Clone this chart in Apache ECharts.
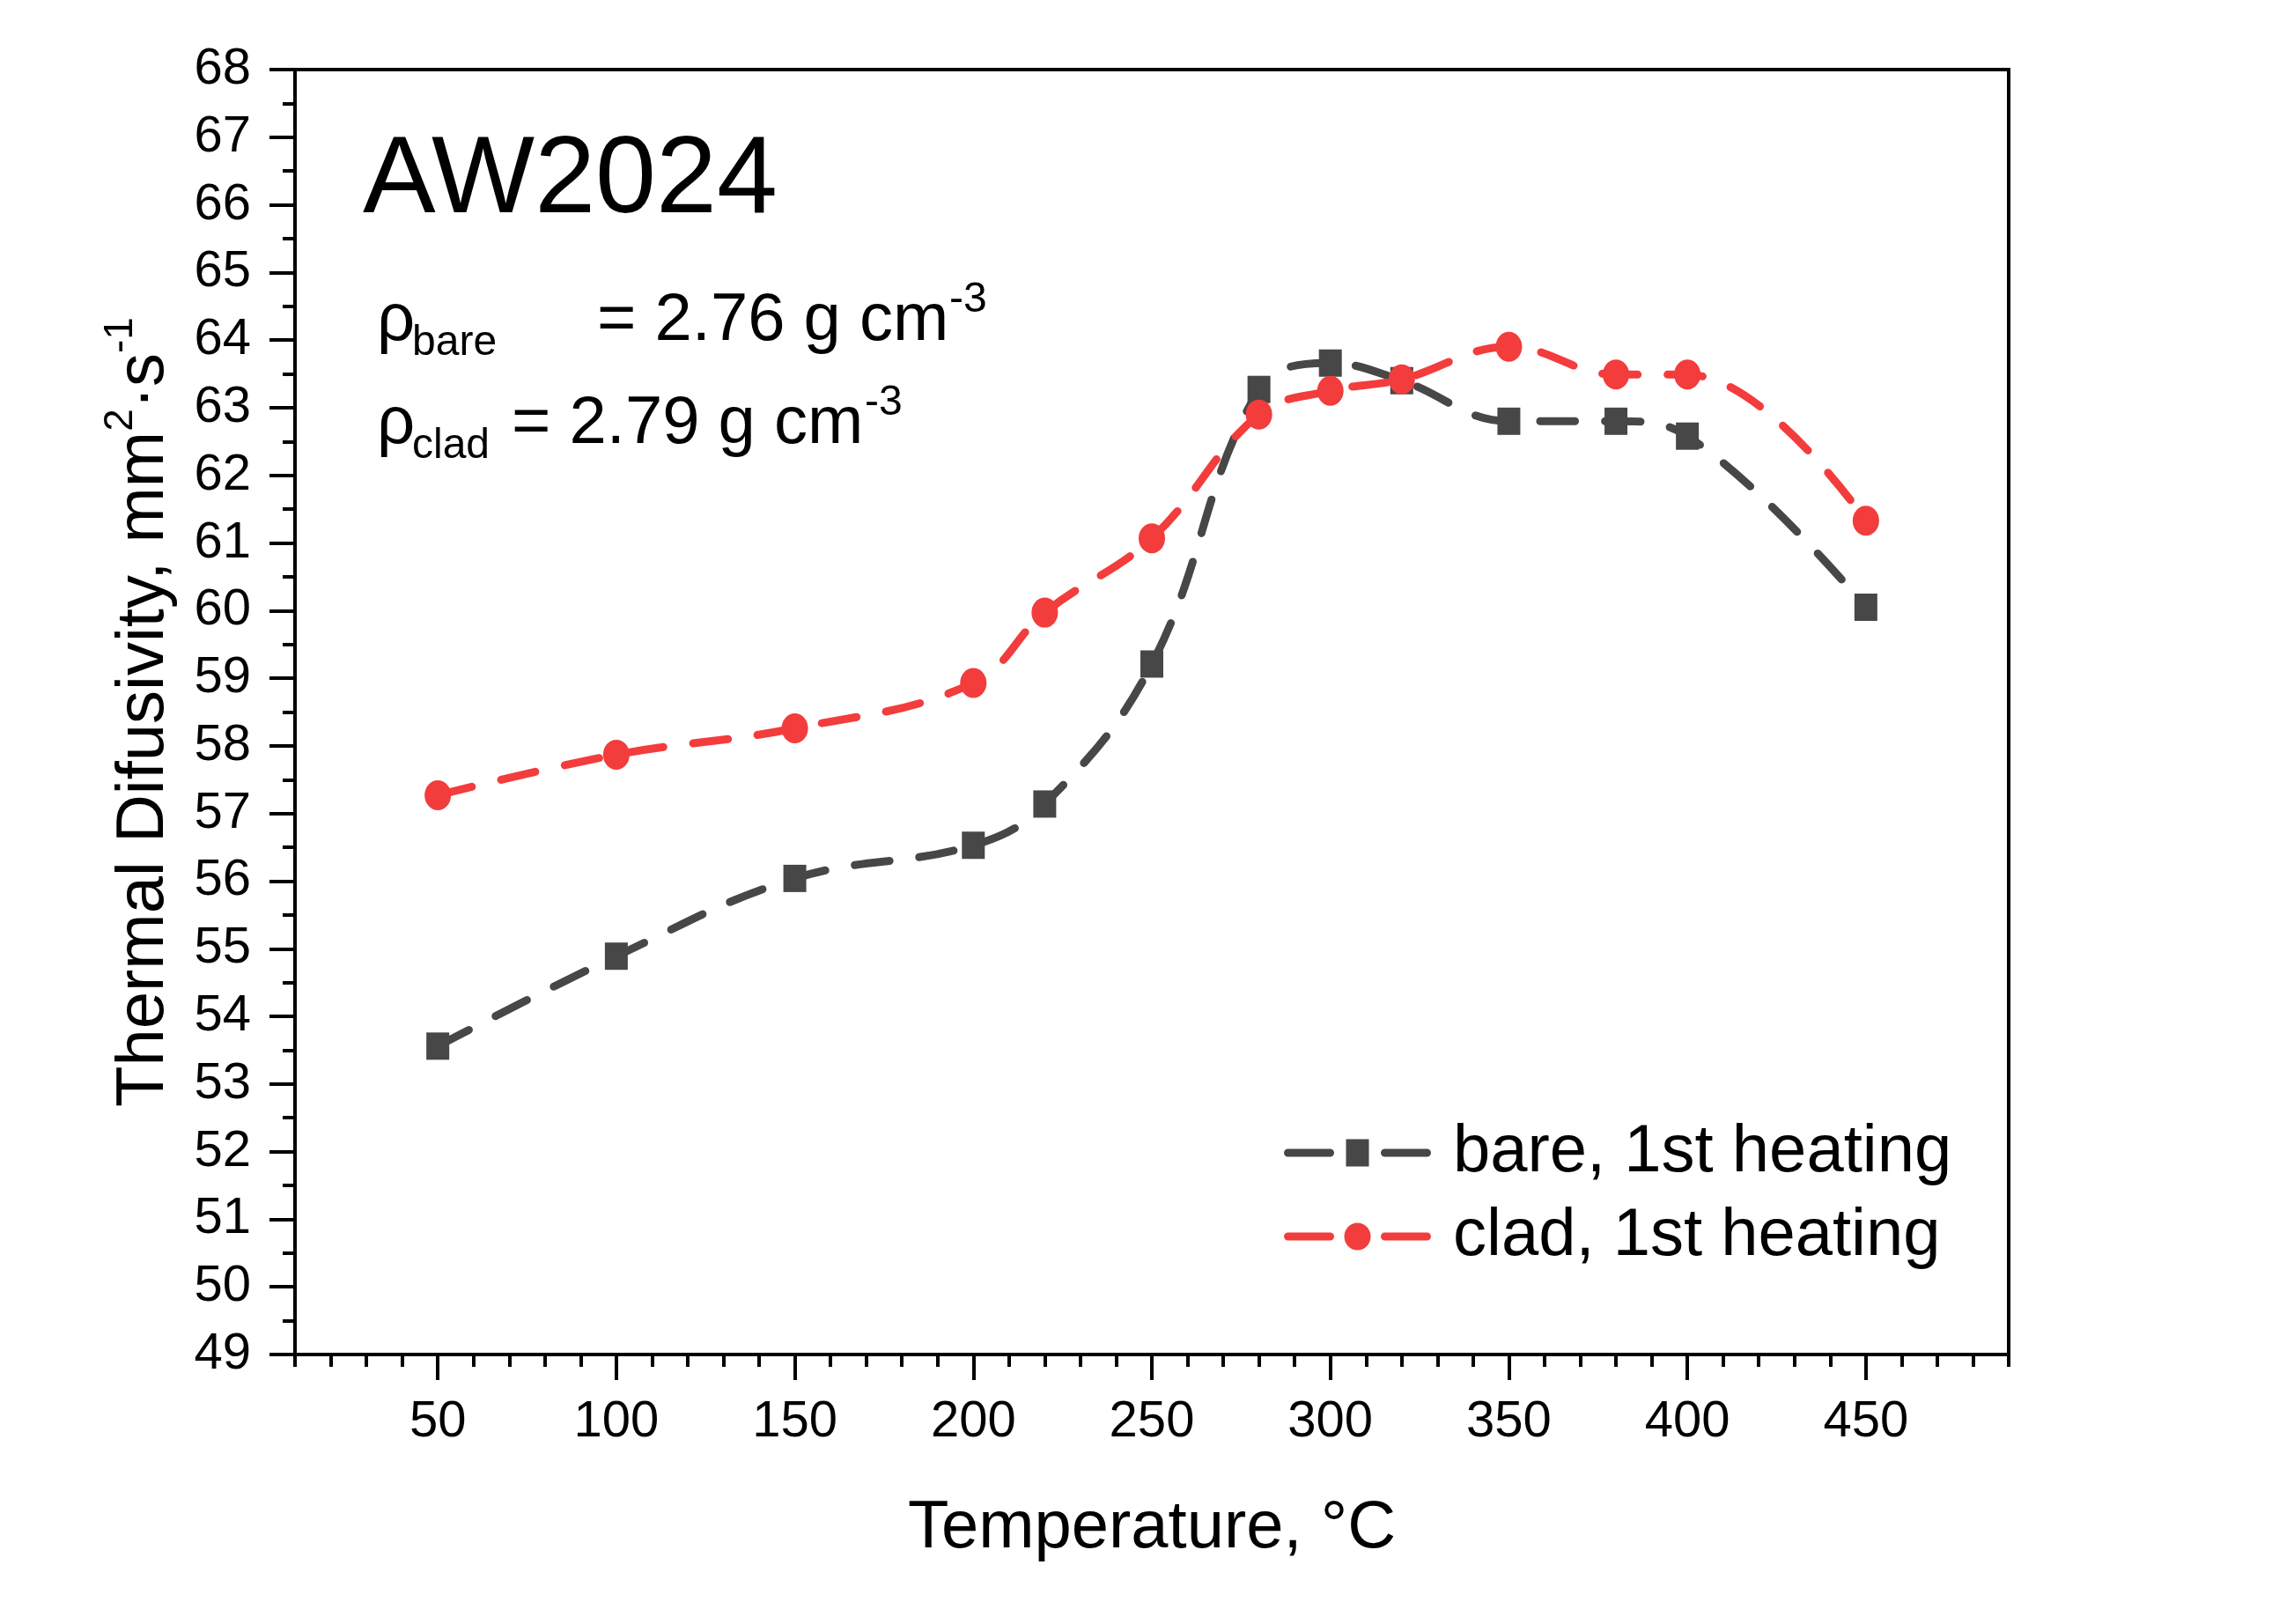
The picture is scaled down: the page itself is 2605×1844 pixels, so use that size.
<!DOCTYPE html>
<html>
<head>
<meta charset="utf-8">
<script src="https://cdn.jsdelivr.net/npm/echarts@6/dist/echarts.min.js"></script>
<style>
html,body{margin:0;padding:0;background:#fff;}
#chart{width:2605px;height:1844px;}
</style>
</head>
<body>
<div id="chart"></div>
<script>
// ---- data ----
const temps = [50, 100, 150, 200, 220, 250, 280, 300, 320, 350, 380, 400, 450];
const bare  = [53.56, 54.89, 56.04, 56.53, 57.14, 59.21, 63.27, 63.66, 63.40, 62.80, 62.80, 62.58, 60.05];
const clad  = [57.27, 57.87, 58.26, 58.93, 59.97, 61.07, 62.90, 63.25, 63.42, 63.90, 63.49, 63.49, 61.33];
const xTickLabels = [50, 100, 150, 200, 250, 300, 350, 400, 450];
const seriesNames = ['bare, 1st heating', 'clad, 1st heating'];

const FONT = '"Liberation Sans", Arial, sans-serif';
const GRAY = '#474747';
const RED = '#f33c3c';

// legend icons: dash - marker - dash (drawn as one filled path, 167 x 32 box)
const dashes = 'M4.5 11.5 L52.5 11.5 A4.5 4.5 0 0 1 52.5 20.5 L4.5 20.5 A4.5 4.5 0 0 1 4.5 11.5 Z ' +
               'M114.5 11.5 L162.5 11.5 A4.5 4.5 0 0 1 162.5 20.5 L114.5 20.5 A4.5 4.5 0 0 1 114.5 11.5 Z ';
const iconBare = 'path://M0 16 L0 16 ' + dashes + 'M70.5 0.5 L96.5 0.5 L96.5 31.5 L70.5 31.5 Z M167 16 L167 16';
const iconClad = 'path://M0 16 L0 16 ' + dashes + 'M68.5 16 A15 15.5 0 1 0 98.5 16 A15 15.5 0 1 0 68.5 16 Z M83.5 0 L83.5 0 M83.5 32 L83.5 32 M167 16 L167 16';

const chart = echarts.init(document.getElementById('chart'), null, {renderer: 'canvas'});

function txt(x, baseline, fs, text) {
  return {
    type: 'text', x: x, y: baseline - 0.35 * fs, z: 100,
    style: { text: text, font: fs + 'px ' + FONT, fill: '#000', verticalAlign: 'middle', align: 'left' }
  };
}

const option = {
  backgroundColor: '#fff',
  animation: false,
  grid: { left: 335, top: 79, width: 1946, height: 1459, show: true, borderColor: '#000', borderWidth: 4, backgroundColor: 'transparent' },
  xAxis: [{
    type: 'value', min: 10, max: 490, interval: 10,
    axisLine: { show: true, lineStyle: { color: '#000', width: 4 } },
    axisTick: { show: true, length: 14, lineStyle: { color: '#000', width: 4 } },
    axisLabel: { customValues: xTickLabels, fontSize: 58, fontFamily: FONT, color: '#000', margin: 48 },
    splitLine: { show: false },
    name: 'Temperature, °C', nameLocation: 'middle', nameGap: 160,
    nameTextStyle: { fontSize: 76, fontFamily: FONT, color: '#000' }
  }, {
    type: 'value', min: 10, max: 490, position: 'bottom', gridIndex: 0,
    axisLine: { show: false },
    axisTick: { show: true, customValues: xTickLabels, length: 29, lineStyle: { color: '#000', width: 4 } },
    axisLabel: { show: false },
    splitLine: { show: false }
  }],
  yAxis: {
    type: 'value', min: 49, max: 68, interval: 1,
    axisLine: { show: true, lineStyle: { color: '#000', width: 4 } },
    axisTick: { show: true, length: 29, lineStyle: { color: '#000', width: 4 } },
    minorTick: { show: true, splitNumber: 2, length: 14, lineStyle: { color: '#000', width: 4 } },
    axisLabel: { fontSize: 58, fontFamily: FONT, color: '#000', margin: 50 },
    splitLine: { show: false },
    name: '{b|Thermal Difusivity, mm}{sup|2}{b|·s}{sup|-1}',
    nameLocation: 'middle', nameGap: 133, nameRotate: 90,
    nameTextStyle: {
      fontFamily: FONT, color: '#000', fontSize: 76,
      rich: {
        b: { fontSize: 76, fontFamily: FONT, color: '#000', lineHeight: 88, verticalAlign: 'bottom' },
        sup: { fontSize: 46, fontFamily: FONT, color: '#000', lineHeight: 46, verticalAlign: 'top' }
      }
    }
  },
  legend: {
    left: 1453, top: 1266, orient: 'vertical',
    itemWidth: 167, itemHeight: 32, itemGap: 19,
    textStyle: { fontSize: 76, fontFamily: FONT, color: '#000', padding: [0, 0, 0, 20] },
    data: [
      { name: seriesNames[0], icon: iconBare },
      { name: seriesNames[1], icon: iconClad }
    ]
  },
  series: [{
    name: seriesNames[0], type: 'line', xAxisIndex: 0,
    data: temps.map((t, i) => [t, bare[i]]),
    smooth: 0.4,
    symbol: 'rect', symbolSize: [26, 31],
    itemStyle: { color: GRAY },
    lineStyle: { color: GRAY, width: 9, type: [40, 34], cap: 'round' }
  }, {
    name: seriesNames[1], type: 'line', xAxisIndex: 0,
    data: temps.map((t, i) => [t, clad[i]]),
    smooth: 0.4,
    symbol: 'circle', symbolSize: [30, 34],
    itemStyle: { color: RED },
    lineStyle: { color: RED, width: 9, type: [40, 34], cap: 'round' }
  }],
  graphic: [
    txt(412, 250, 124, 'AW2024'),
    txt(428, 392, 76, 'ρ'),
    txt(468, 407, 48, 'bare'),
    txt(678, 392, 76, '= 2.76 g cm'),
    txt(1078, 358, 48, '-3'),
    txt(428, 509, 76, 'ρ'),
    txt(468, 524, 48, 'clad'),
    txt(581, 509, 76, '= 2.79 g cm'),
    txt(982, 475, 48, '-3')
  ]
};
chart.setOption(option);
</script>
</body>
</html>
